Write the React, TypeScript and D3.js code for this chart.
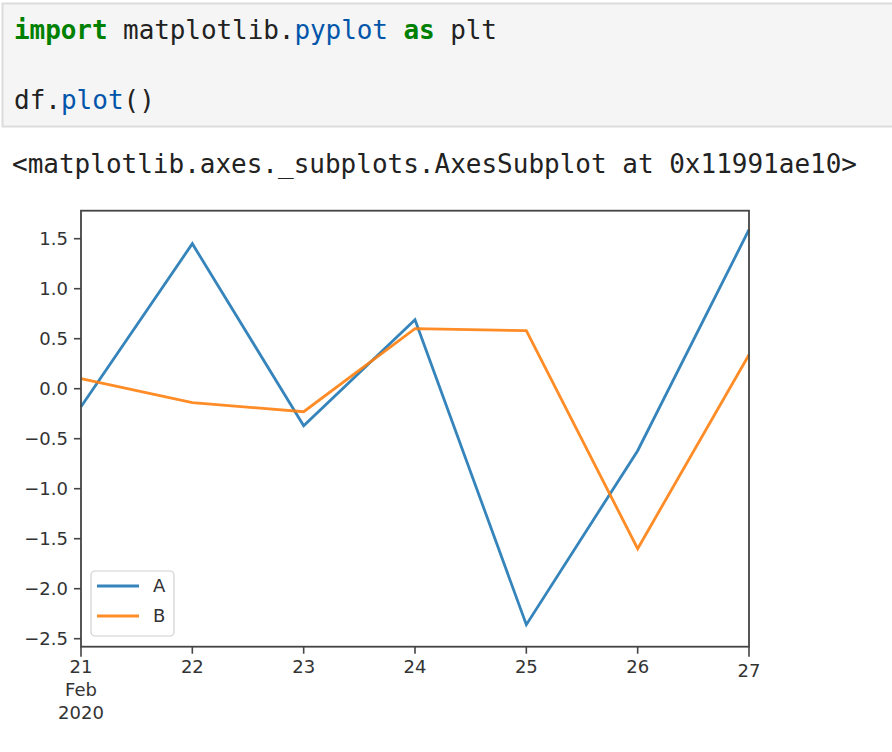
import React from "react";
import * as d3 from "d3";

const dates = ["2020-02-21", "2020-02-22", "2020-02-23", "2020-02-24", "2020-02-25", "2020-02-26", "2020-02-27"];
const seriesA = [-0.18, 1.45, -0.37, 0.69, -2.36, -0.62, 1.59];
const seriesB = [0.1, -0.14, -0.23, 0.6, 0.58, -1.6, 0.34];
const yTicks = [1.5, 1.0, 0.5, 0.0, -0.5, -1.0, -1.5, -2.0, -2.5];
const seriesNames = ["A", "B"];
const seriesColors = ["#1f77b4", "#ff7f0e"];

const parse = d3.timeParse("%Y-%m-%d");

export default function App() {
  const left = 81, right = 749, top = 210.7, bottom = 646.7;
  const x = d3.scaleTime().domain([parse(dates[0])!, parse(dates[dates.length - 1])!]).range([left, right]);
  const y = d3.scaleLinear().domain([-2.58, 1.78]).range([bottom, top]);
  const data = [seriesA, seriesB];
  const line = d3.line<number>().x((_, i) => x(parse(dates[i])!)).y((d) => y(d));
  const fmt = (v: number) => (v < 0 ? "\u2212" : "") + Math.abs(v).toFixed(1);
  const mono = "'DejaVu Sans Mono', monospace";
  const sans = "'DejaVu Sans', sans-serif";
  const tickColor = "#333";
  return (
    <svg width={892} height={752} style={{ position: "absolute", left: 0, top: 0, background: "#fff" }}>
      <rect x={2.5} y={3.5} width={900} height={123} fill="#f5f5f5" stroke="#dcdcdc" strokeWidth={2} />
      <text x={14} y={39} fontFamily={mono} fontSize={26} fill="#222" textLength={483} lengthAdjust="spacing">
        <tspan fill="#008000" fontWeight="bold">import</tspan>
        <tspan> matplotlib.</tspan>
        <tspan fill="#0055aa">pyplot</tspan>
        <tspan> </tspan>
        <tspan fill="#008000" fontWeight="bold">as</tspan>
        <tspan> plt</tspan>
      </text>
      <text x={14} y={109} fontFamily={mono} fontSize={26} fill="#222">
        <tspan>df.</tspan>
        <tspan fill="#0055aa">plot</tspan>
        <tspan>()</tspan>
      </text>
      <text x={12} y={173} fontFamily={mono} fontSize={26} fill="#222" textLength={845} lengthAdjust="spacing">
        {"<matplotlib.axes._subplots.AxesSubplot at 0x11991ae10>"}
      </text>

      {data.map((s, k) => (
        <path key={k} d={line(s) || ""} fill="none" stroke={seriesColors[k]} strokeWidth={2.8} strokeOpacity={0.9} strokeLinejoin="miter" />
      ))}

      <rect x={left} y={top} width={right - left} height={bottom - top} fill="none" stroke="#444" strokeWidth={1.8} />

      {yTicks.map((t) => (
        <g key={t}>
          <line x1={left - 7} x2={left} y1={y(t)} y2={y(t)} stroke="#444" strokeWidth={1.6} />
          <text x={left - 13} y={y(t)} dy="0.35em" textAnchor="end" fontFamily={sans} fontSize={18} fill={tickColor}>
            {fmt(t)}
          </text>
        </g>
      ))}

      {dates.map((d, i) => {
        const dt = parse(d)!;
        const xx = x(dt);
        return (
          <g key={d}>
            <line x1={xx} x2={xx} y1={bottom} y2={bottom + (i === 0 || i === dates.length - 1 ? 10 : 7)} stroke="#444" strokeWidth={1.6} />
            <text x={xx} y={bottom + (i === dates.length - 1 ? 24 : 20)} dy="0.35em" textAnchor="middle" fontFamily={sans} fontSize={18} fill={tickColor}>
              {d3.timeFormat("%d")(dt)}
            </text>
            {i === 0 && (
              <>
                <text x={xx} y={bottom + 43} dy="0.35em" textAnchor="middle" fontFamily={sans} fontSize={18} fill={tickColor}>
                  {d3.timeFormat("%b")(dt)}
                </text>
                <text x={xx} y={bottom + 66} dy="0.35em" textAnchor="middle" fontFamily={sans} fontSize={18} fill={tickColor}>
                  {d3.timeFormat("%Y")(dt)}
                </text>
              </>
            )}
          </g>
        );
      })}

      <g>
        <rect x={91} y={571} width={83} height={65} rx={4} fill="#fff" fillOpacity={0.8} stroke="#d0d0d0" strokeWidth={1.2} />
        {seriesNames.map((n, k) => (
          <g key={n}>
            <line x1={97} x2={139} y1={586 + k * 30} y2={586 + k * 30} stroke={seriesColors[k]} strokeWidth={2.8} strokeOpacity={0.9} />
            <text x={153} y={586 + k * 30} dy="0.35em" fontFamily={sans} fontSize={18} fill={tickColor}>
              {n}
            </text>
          </g>
        ))}
      </g>
    </svg>
  );
}
